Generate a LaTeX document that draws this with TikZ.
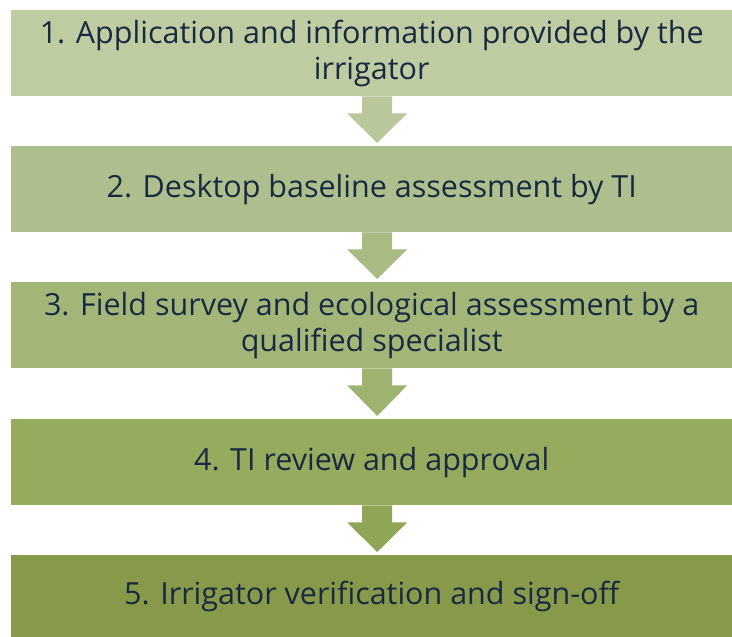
\documentclass[tikz,border=0pt]{standalone}
\usepackage{fontspec}
\setmainfont{Open Sans}[Ligatures=NoCommon]
\definecolor{cA}{RGB}{189,204,161}
\definecolor{cB}{RGB}{173,191,140}
\definecolor{cC}{RGB}{162,183,119}
\definecolor{cD}{RGB}{149,172,95}
\definecolor{cE}{RGB}{134,154,74}
\definecolor{aA}{RGB}{184,200,154}
\definecolor{aB}{RGB}{168,187,131}
\definecolor{aC}{RGB}{157,179,111}
\definecolor{aD}{RGB}{144,166,87}
\definecolor{txt}{RGB}{27,40,66}
\tikzset{
  stepbox/.style={rectangle, anchor=north west, minimum width=721pt, minimum height=86pt,
    inner sep=0pt, align=center, text=txt, font=\fontsize{30.5}{36}\selectfont}
}
\newcommand{\blockarr}[3]{%
  \fill[#3] ([xshift=-9.5pt]#1.south) -- ([xshift=-9.5pt,yshift=-17pt]#1.south)
    -- ([xshift=-24.5pt,yshift=-17pt]#1.south) -- ([xshift=5.5pt,yshift=3pt]#2.north)
    -- ([xshift=35.5pt,yshift=-17pt]#1.south) -- ([xshift=20.5pt,yshift=-17pt]#1.south)
    -- ([xshift=20.5pt]#1.south) -- cycle;}
\begin{document}
\begin{tikzpicture}[x=1pt,y=-1pt]
\useasboundingbox (0,0) rectangle (732,637);
\fill[white] (0,0) rectangle (732,637);
\node[stepbox, fill=cA] (b1) at (11,10) {1. Application and information provided by the\\irrigator};
\node[stepbox, fill=cB] (b2) at (11,146) {2. Desktop baseline assessment by TI};
\node[stepbox, fill=cC] (b3) at (11,282) {3. Field survey and ecological assessment by a\\qualified specialist};
\node[stepbox, fill=cD] (b4) at (11,419) {4. TI review and approval};
\node[stepbox, fill=cE, minimum height=82pt] (b5) at (11,555) {5. Irrigator verification and sign-off};
\blockarr{b1}{b2}{aA}
\blockarr{b2}{b3}{aB}
\blockarr{b3}{b4}{aC}
\blockarr{b4}{b5}{aD}
\end{tikzpicture}
\end{document}
